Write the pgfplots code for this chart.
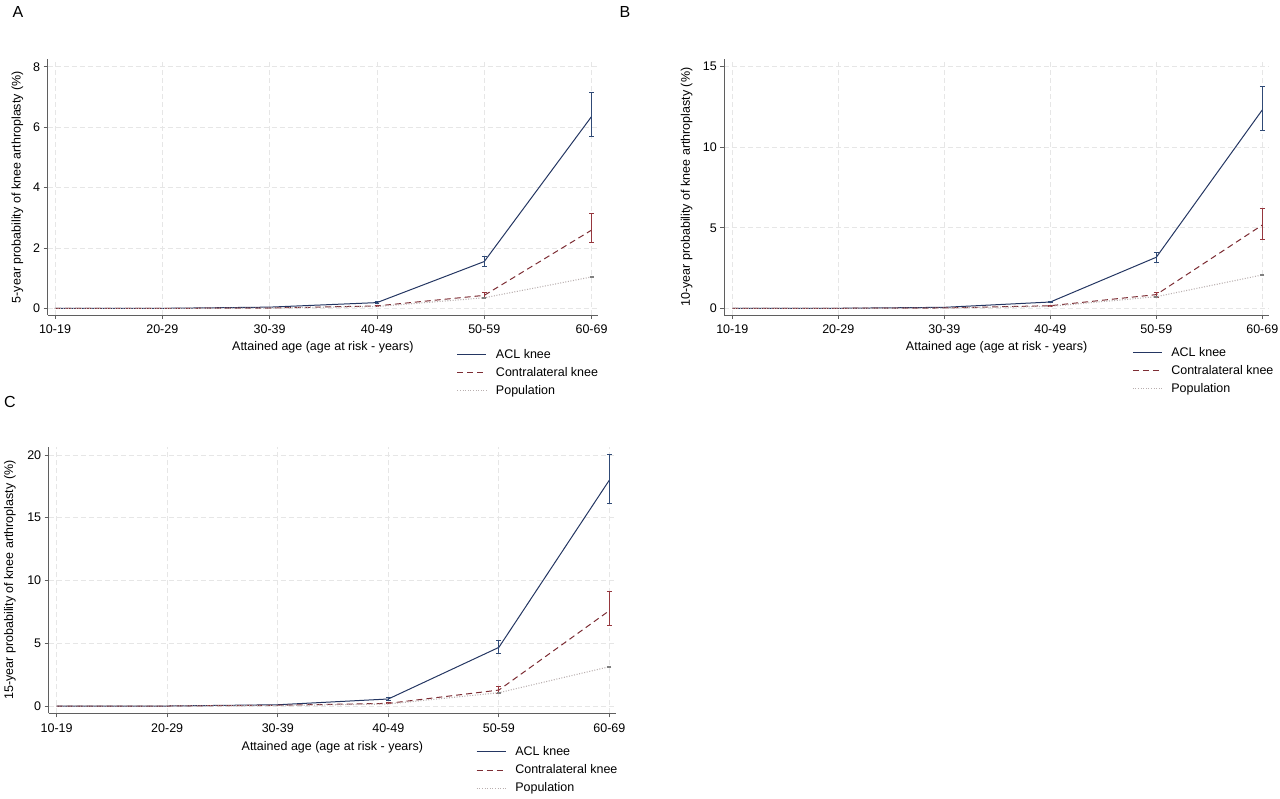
\documentclass[border=0pt]{standalone}
\usepackage{pgfplots}
\pgfplotsset{compat=1.18}
\usepackage{fontspec}
\setmainfont{Liberation Sans}
\definecolor{aclc}{RGB}{36,54,98}
\definecolor{aclerr}{RGB}{48,74,118}
\definecolor{conc}{RGB}{125,45,52}
\definecolor{conerr}{RGB}{150,55,62}
\definecolor{popc}{RGB}{185,175,175}
\definecolor{axc}{RGB}{95,95,95}
\definecolor{gridc}{RGB}{230,230,230}
\pgfplotsset{
  stata/.style={
    scale only axis,
    axis lines=left,
    axis line style={-, color=axc, line width=0.9pt},
    tick style={color=axc, line width=0.8pt},
    tick align=outside,
    major tick length=4pt,
    xtick={0,1,2,3,4,5},
    xticklabels={10-19,20-29,30-39,40-49,50-59,60-69},
    grid=major,
    major grid style={color=gridc, dash pattern=on 5pt off 3pt, line width=0.7pt},
    tick label style={font=\fontsize{12.5}{14}\selectfont, color=black},
    xticklabel style={yshift=-2.5pt},
    label style={font=\fontsize{12.5}{14}\selectfont},
    /pgf/number format/assume math mode=true,
    xlabel={Attained age (age at risk - years)},
    legend cell align=left,
    legend style={draw=none, fill=none, font=\fontsize{12.5}{14}\selectfont,
      anchor=north west, inner sep=0pt, row sep=3.5pt,
      /tikz/every odd column/.append style={column sep=7pt}},
    legend image code/.code={\draw[#1] (0pt,0pt) -- (29pt,0pt);},
    clip=false,
  },
  acl/.style={color=aclc, line width=1pt, no markers,
    error bars/.cd, y dir=both, y explicit,
    error bar style={draw=aclerr, line width=1pt, solid},
    error mark options={rotate=90, mark size=2.4pt, draw=aclerr, line width=1pt, solid}},
  con/.style={color=conc, line width=1pt, no markers, dash pattern=on 6pt off 4pt,
    error bars/.cd, y dir=both, y explicit,
    error bar style={draw=conerr, line width=1pt, solid},
    error mark options={rotate=90, mark size=2.4pt, draw=conerr, line width=1pt, solid}},
  pop/.style={color=popc, line width=1.1pt, no markers, dash pattern=on 1pt off 1.6pt,
    error bars/.cd, y dir=both, y explicit,
    error bar style={draw=gray, line width=0.9pt, solid},
    error mark options={rotate=90, mark size=2pt, draw=gray, line width=0.9pt, solid}},
}
\begin{document}
\begin{tikzpicture}
\path[use as bounding box] (0pt,0pt) rectangle (1280pt,798pt);
\node[font=\fontsize{16}{18}\selectfont] at (18pt,786pt) {A};
\node[font=\fontsize{16}{18}\selectfont] at (625pt,786pt) {B};
\node[font=\fontsize{16}{18}\selectfont] at (10pt,396pt) {C};

% Panel A
\begin{axis}[stata, at={(47.7pt,483pt)}, anchor=south west,
  width=550.3pt, height=255.7pt,
  xmin=-0.068, xmax=5.06, ymin=-0.22, ymax=8.245,
  ytick={0,2,4,6,8},
  ylabel={5-year probability of knee arthroplasty (\%)},
  ylabel style={at={(axis description cs:-0.0552,0.5)}, anchor=center},
  xlabel style={at={(axis description cs:0.5,-0.125)}, anchor=center},
  legend style={at={(axis description cs:0.7432,-0.125)}}]
\addplot[acl] coordinates {(0,0) (1,0) (2,0.04) (3,0.19) +=(0,0.03) -=(0,0.03) (4,1.55) +=(0,0.18) -=(0,0.17) (5,6.35) +=(0,0.79) -=(0,0.67)};
\addlegendentry{ACL knee}
\addplot[con] coordinates {(0,0) (1,0) (2,0.01) (3,0.08) +=(0,0.02) -=(0,0.02) (4,0.43) +=(0,0.08) -=(0,0.08) (5,2.59) +=(0,0.56) -=(0,0.42)};
\addlegendentry{Contralateral knee}
\addplot[pop] coordinates {(0,0) (1,0) (2,0.01) (3,0.06) (4,0.35) +=(0,0.01) -=(0,0.01) (5,1.04) +=(0,0.02) -=(0,0.02)};
\addlegendentry{Population}
\end{axis}

% Panel B
\begin{axis}[stata, at={(724.3pt,483pt)}, anchor=south west,
  width=544.7pt, height=255.7pt,
  xmin=-0.075, xmax=5.063, ymin=-0.416, ymax=15.46,
  ytick={0,5,10,15},
  ylabel={10-year probability of knee arthroplasty (\%)},
  ylabel style={at={(axis description cs:-0.069,0.5)}, anchor=center},
  xlabel style={at={(axis description cs:0.5,-0.125)}, anchor=center},
  legend style={at={(axis description cs:0.7485,-0.117)}}]
\addplot[acl] coordinates {(0,0) (1,0) (2,0.06) (3,0.39) +=(0,0.06) -=(0,0.06) (4,3.17) +=(0,0.31) -=(0,0.34) (5,12.32) +=(0,1.44) -=(0,1.29)};
\addlegendentry{ACL knee}
\addplot[con] coordinates {(0,0) (1,0) (2,0.02) (3,0.16) +=(0,0.03) -=(0,0.03) (4,0.85) +=(0,0.16) -=(0,0.17) (5,5.17) +=(0,1.0) -=(0,0.87)};
\addlegendentry{Contralateral knee}
\addplot[pop] coordinates {(0,0) (1,0) (2,0.01) (3,0.12) (4,0.72) +=(0,0.02) -=(0,0.02) (5,2.07) +=(0,0.03) -=(0,0.03)};
\addlegendentry{Population}
\end{axis}

% Panel C
\begin{axis}[stata, at={(48.7pt,84.7pt)}, anchor=south west,
  width=567.3pt, height=266.6pt,
  xmin=-0.072, xmax=5.06, ymin=-0.58, ymax=20.66,
  ytick={0,5,10,15,20},
  ylabel={15-year probability of knee arthroplasty (\%)},
  ylabel style={at={(axis description cs:-0.0682,0.5)}, anchor=center},
  xlabel style={at={(axis description cs:0.5,-0.126)}, anchor=center},
  legend style={at={(axis description cs:0.7532,-0.117)}}]
\addplot[acl] coordinates {(0,0) (1,0) (2,0.1) (3,0.56) +=(0,0.1) -=(0,0.1) (4,4.67) +=(0,0.53) -=(0,0.47) (5,18.0) +=(0,2.0) -=(0,1.85)};
\addlegendentry{ACL knee}
\addplot[con] coordinates {(0,0) (1,0) (2,0.06) (3,0.21) +=(0,0.04) -=(0,0.04) (4,1.27) +=(0,0.27) -=(0,0.26) (5,7.6) +=(0,1.56) -=(0,1.2)};
\addlegendentry{Contralateral knee}
\addplot[pop] coordinates {(0,0) (1,0) (2,0.03) (3,0.16) (4,1.06) +=(0,0.03) -=(0,0.03) (5,3.13) +=(0,0.04) -=(0,0.04)};
\addlegendentry{Population}
\end{axis}
\end{tikzpicture}
\end{document}
